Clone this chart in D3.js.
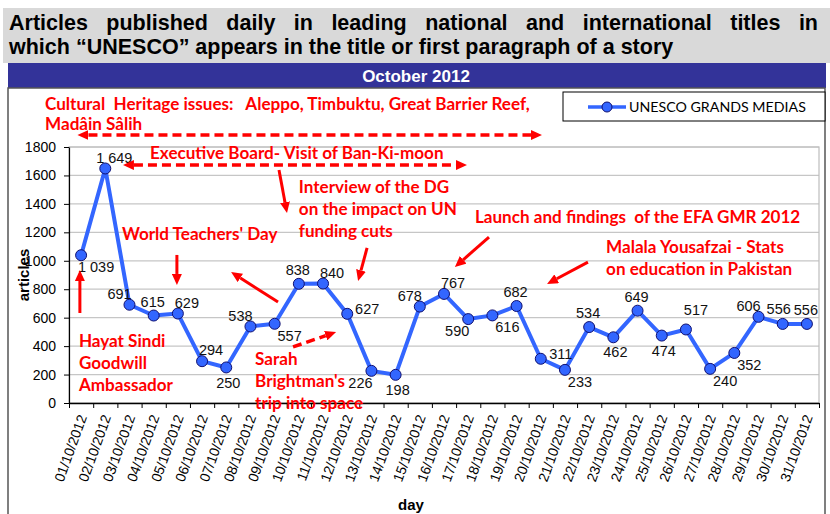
<!DOCTYPE html>
<html>
<head>
<meta charset="utf-8">
<script src="https://cdn.jsdelivr.net/npm/d3@7/dist/d3.min.js"></script>
<style>
  body { margin: 0; background: #fff; }
  svg { display: block; }
  .arial { font-family: "Liberation Sans", Arial, sans-serif; }
  .note { font-family: Lato, "Open Sans", sans-serif; font-weight: bold; fill: #f00; white-space: pre; }
</style>
</head>
<body>
<div id="chart"></div>
<script>
const titleLines = [
  'Articles published daily in leading national and international titles in',
  'which \u201cUNESCO\u201d appears in the title or first paragraph of a story'
]
const subtitle = 'October 2012'
const seriesName = 'UNESCO GRANDS MEDIAS'

const days = [
  '01/10/2012', '02/10/2012', '03/10/2012', '04/10/2012', '05/10/2012', '06/10/2012',
  '07/10/2012', '08/10/2012', '09/10/2012', '10/10/2012', '11/10/2012', '12/10/2012',
  '13/10/2012', '14/10/2012', '15/10/2012', '16/10/2012', '17/10/2012', '18/10/2012',
  '19/10/2012', '20/10/2012', '21/10/2012', '22/10/2012', '23/10/2012', '24/10/2012',
  '25/10/2012', '26/10/2012', '27/10/2012', '28/10/2012', '29/10/2012', '30/10/2012',
  '31/10/2012'
]
const articles = [
  1039, 1649, 691, 615, 629, 294, 250, 538, 557, 838, 840, 627, 226, 198, 678, 767,
  590, 616, 682, 311, 233, 534, 462, 649, 474, 517, 240, 352, 606, 556, 556
]
// where each value label sits around its point
const labelSpot = [
  'br', 'ar', 'al', 'a', 'ar', 'ar', 'b', 'al', 'br', 'a', 'ar', 'r', 'bl', 'b', 'al', 'ar',
  'bl', 'br', 'a', 'r', 'br', 'a', 'b', 'a', 'b', 'au', 'br', 'br', 'al', 'aL', 'a'
]
const yTicks = [0, 200, 400, 600, 800, 1000, 1200, 1400, 1600, 1800]

// annotations, placed in [day, articles] units
const notes = [
  { at: [-0.49, 2060], lh: 20, lines: ['Cultural  Heritage issues:   Aleppo, Timbuktu, Great Barrier Reef,', 'Mad\u00e2in S\u00e2lih'] },
  { at: [3.85, 1716], lines: ['Executive Board- Visit of Ban-Ki-moon'] },
  { at: [10.0, 1477], lines: ['Interview of the DG', 'on the impact on UN', 'funding cuts'] },
  { at: [2.69, 1146], lines: ["World Teachers' Day"] },
  { at: [0.91, 394], lines: ['Hayat Sindi', 'Goodwill', 'Ambassador'] },
  { at: [8.19, 267], lines: ['Sarah', "Brightman's", 'trip into space'] },
  { at: [17.28, 1266], lines: ['Launch and findings  of the EFA GMR 2012'] },
  { at: [22.7, 1055], lines: ['Malala Yousafzai - Stats', 'on education in Pakistan'] }
]
const arrows = [
  { from: [0.85, 1884], to: [20.05, 1884], dashed: true, both: true },
  { from: [2.73, 1673], to: [16.95, 1673], dashed: true, both: true },
  { from: [9.18, 1638], to: [9.51, 1336] },
  { from: [12.82, 1090], to: [12.45, 858] },
  { from: [4.96, 1041], to: [4.96, 830] },
  { from: [9.14, 710], to: [7.2, 921] },
  { from: [0.95, 633], to: [0.95, 935] },
  { from: [9.76, 394], to: [11.54, 499], dashed: true },
  { from: [17.86, 1167], to: [16.45, 956] },
  { from: [21.95, 991], to: [20.26, 837] }
]

const W = 830, H = 514
const plot = { left: 69, right: 819, top: 147, bottom: 403 }
const lineBlue = '#3366ff'

const svg = d3.select('#chart').append('svg')
  .attr('width', W)
  .attr('height', H)

// ---- title block
svg.append('rect')
  .attr('x', 3).attr('y', 8).attr('width', 827).attr('height', 55)
  .attr('fill', '#d9d9d9')

const title = svg.append('text').attr('class', 'arial')
  .attr('font-weight', 'bold').attr('fill', '#000')
  .attr('font-size', 21.5)

// first line is justified across the block, word by word
const words = titleLines[0].split(' ')
const wordSpans = words.map(w => title.append('tspan').attr('y', 30).text(w))
const wordW = wordSpans.map(n => n.node().getComputedTextLength())
const gap = (809 - d3.sum(wordW)) / (words.length - 1)
let cursor = 9
wordSpans.forEach((n, i) => {
  n.attr('x', cursor)
  cursor += wordW[i] + gap
})
const t2 = title.append('tspan').attr('x', 9).attr('y', 54).text(titleLines[1])
if (t2.node().getComputedTextLength() > 739) {
  t2.attr('textLength', 739).attr('lengthAdjust', 'spacing')
}

// ---- blue band
svg.append('rect')
  .attr('x', 8).attr('y', 63).attr('width', 818).attr('height', 25)
  .attr('fill', '#333399')
svg.append('text').attr('class', 'arial')
  .attr('x', 416).attr('y', 82)
  .attr('text-anchor', 'middle')
  .attr('font-size', 17).attr('font-weight', 'bold')
  .attr('fill', '#fff')
  .text(subtitle)

// chart frame
svg.append('rect')
  .attr('x', 8).attr('y', 88).attr('width', 817).attr('height', 460)
  .attr('fill', 'none').attr('stroke', '#555').attr('stroke-width', 1.5)

// ---- scales
const x = d3.scaleBand().domain(days).range([plot.left, plot.right])
const dayX = d3.scaleLinear().domain([0.5, 31.5]).range([plot.left, plot.right])
const edgeX = d3.scaleLinear().domain([0, days.length]).range([plot.left, plot.right])
const y = d3.scaleLinear().domain([0, 1800]).range([plot.bottom, plot.top])
const cx = i => x(days[i]) + x.bandwidth() / 2

// gridlines + plot border
svg.append('g')
  .selectAll('line')
  .data(yTicks.filter(t => t > 0))
  .join('line')
    .attr('x1', plot.left).attr('x2', plot.right)
    .attr('y1', d => y(d)).attr('y2', d => y(d))
    .attr('stroke', '#c6c6c6').attr('stroke-width', 1.2)
svg.append('rect')
  .attr('x', plot.left).attr('y', plot.top)
  .attr('width', plot.right - plot.left).attr('height', plot.bottom - plot.top)
  .attr('fill', 'none').attr('stroke', '#bdbdbd').attr('stroke-width', 1.2)

// y axis
const yAxis = svg.append('g')
  .attr('transform', `translate(${plot.left},0)`)
  .call(d3.axisLeft(y).tickValues(yTicks).tickFormat(d3.format('d'))
    .tickSize(5).tickSizeOuter(0).tickPadding(8))
yAxis.selectAll('text').attr('class', 'arial').attr('font-size', 14).attr('fill', '#000')
yAxis.select('.domain').attr('stroke', '#000').attr('stroke-width', 1.2)

// x axis: ticks between the days
const xAxis = svg.append('g')
  .attr('transform', `translate(0,${plot.bottom})`)
  .call(d3.axisBottom(edgeX).tickValues(d3.range(0, days.length + 1))
    .tickFormat('').tickSize(5).tickSizeOuter(0))
xAxis.select('.domain').attr('stroke', '#000').attr('stroke-width', 1.5)

svg.append('g').attr('class', 'arial')
  .selectAll('text')
  .data(days)
  .join('text')
    .attr('transform', (d, i) => `translate(${cx(i) + 6},${plot.bottom + 14}) rotate(-70)`)
    .attr('text-anchor', 'end')
    .attr('font-size', 14)
    .attr('fill', '#000')
    .text(d => d)

// axis titles
svg.append('text').attr('class', 'arial')
  .attr('transform', `translate(29,${(plot.top + plot.bottom) / 2}) rotate(-90)`)
  .attr('text-anchor', 'middle')
  .attr('font-size', 15).attr('font-weight', 'bold')
  .text('articles')
svg.append('text').attr('class', 'arial')
  .attr('x', 411).attr('y', 510)
  .attr('text-anchor', 'middle')
  .attr('font-size', 15).attr('font-weight', 'bold')
  .text('day')

// ---- series
const line = d3.line()
  .x((d, i) => cx(i))
  .y(d => y(d))
svg.append('path')
  .datum(articles)
  .attr('d', line)
  .attr('fill', 'none')
  .attr('stroke', lineBlue)
  .attr('stroke-width', 4)
  .attr('stroke-linejoin', 'round')
svg.append('g')
  .selectAll('circle')
  .data(articles)
  .join('circle')
    .attr('cx', (d, i) => cx(i))
    .attr('cy', d => y(d))
    .attr('r', 5.5)
    .attr('fill', lineBlue)
    .attr('stroke', '#101070')
    .attr('stroke-width', 1)

// value labels, "1 039" style grouping
const fmt = d3.formatLocale({ decimal: ',', thousands: '\u00a0', grouping: [3], currency: ['', ''] }).format(',d')
const nudge = {
  a: [-1, -14], aL: [-4, -15], au: [10, -20], b: [2, 15], r: [20, -5], al: [-10, -11],
  ar: [9, -11], br: [15, 12], bl: [-11, 12]
}
svg.append('g').attr('class', 'arial')
  .selectAll('text')
  .data(articles)
  .join('text')
    .attr('x', (d, i) => cx(i) + nudge[labelSpot[i]][0])
    .attr('y', (d, i) => y(d) + nudge[labelSpot[i]][1])
    .attr('dy', '0.35em')
    .attr('text-anchor', 'middle')
    .attr('font-size', 14.5)
    .attr('fill', '#111')
    .text(d => fmt(d))

// ---- legend
const lg = svg.append('g')
lg.append('rect')
  .attr('x', 563).attr('y', 92).attr('width', 262).attr('height', 29)
  .attr('fill', '#fff').attr('stroke', '#000').attr('stroke-width', 1)
lg.append('line')
  .attr('x1', 588).attr('x2', 626).attr('y1', 107).attr('y2', 107)
  .attr('stroke', lineBlue).attr('stroke-width', 3.5)
lg.append('circle')
  .attr('cx', 607).attr('cy', 107).attr('r', 5)
  .attr('fill', lineBlue).attr('stroke', '#101070')
const lgText = lg.append('text')
  .attr('x', 629).attr('y', 112)
  .attr('font-family', 'Lato, "Open Sans", sans-serif')
  .attr('font-size', 14)
  .text(seriesName)
lgText.attr('font-size', 14 * 177 / lgText.node().getComputedTextLength())

// ---- annotations
const defs = svg.append('defs')
defs.append('marker')
  .attr('id', 'head')
  .attr('markerUnits', 'userSpaceOnUse')
  .attr('markerWidth', 11).attr('markerHeight', 10)
  .attr('refX', 0).attr('refY', 5)
  .attr('orient', 'auto-start-reverse')
  .append('path')
    .attr('d', 'M0,0 L11,5 L0,10 Z')
    .attr('fill', '#f00')

const headLen = 11
const noteG = svg.append('g')
arrows.forEach(a => {
  let p0 = [dayX(a.from[0]), y(a.from[1])]
  let p1 = [dayX(a.to[0]), y(a.to[1])]
  const len = Math.hypot(p1[0] - p0[0], p1[1] - p0[1])
  const u = [(p1[0] - p0[0]) / len, (p1[1] - p0[1]) / len]
  p1 = [p1[0] - u[0] * headLen, p1[1] - u[1] * headLen]
  if (a.both) p0 = [p0[0] + u[0] * headLen, p0[1] + u[1] * headLen]
  const l = noteG.append('line')
    .attr('x1', p0[0]).attr('y1', p0[1])
    .attr('x2', p1[0]).attr('y2', p1[1])
    .attr('stroke', '#f00')
    .attr('stroke-width', a.dashed ? 3.5 : 3)
    .attr('marker-end', 'url(#head)')
  if (a.dashed) l.attr('stroke-dasharray', '9,5')
  if (a.both) l.attr('marker-start', 'url(#head)')
})

const noteTexts = notes.map(n => {
  const t = noteG.append('text')
    .attr('class', 'note')
    .attr('xml:space', 'preserve')
    .attr('font-size', 17)
  n.lines.forEach((s, i) => {
    t.append('tspan')
      .attr('x', dayX(n.at[0]))
      .attr('y', y(n.at[1]) + i * (n.lh || 22))
      .text(s)
  })
  return t
})
// size every note so the long heritage line spans its width
const longest = noteTexts[0].select('tspan').node().getComputedTextLength()
const noteSize = 17 * 485 / longest
noteTexts.forEach(t => t.attr('font-size', noteSize))
</script>
</body>
</html>
